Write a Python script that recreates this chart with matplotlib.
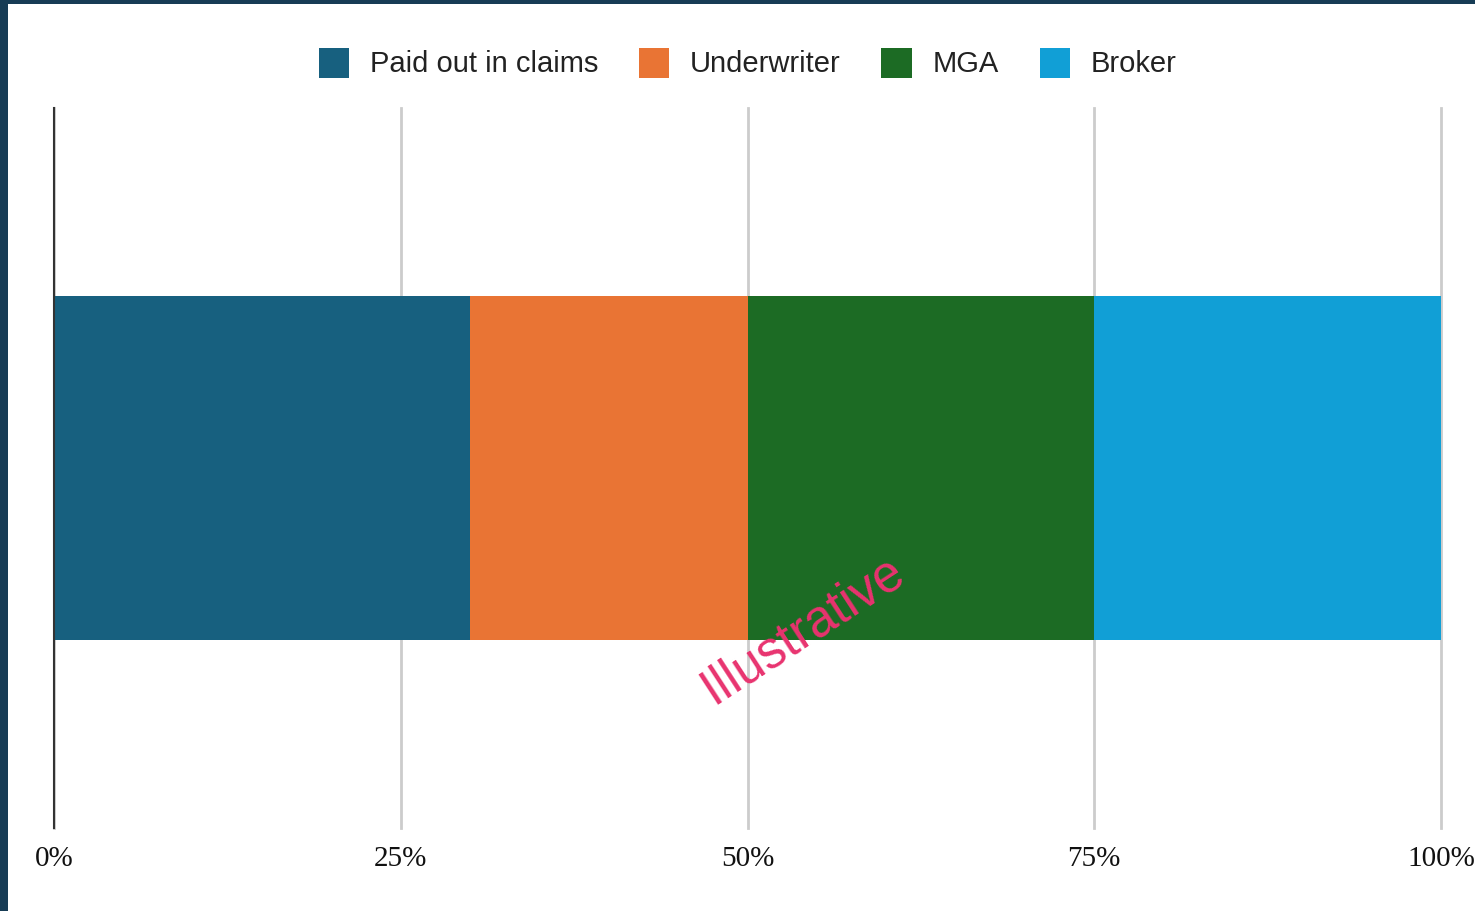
import numpy as np
import matplotlib.pyplot as plt
from matplotlib.patches import Patch, Rectangle

# shares of the premium
categories = ['Paid out in claims', 'Underwriter', 'MGA', 'Broker']
shares = [30, 20, 25, 25]
colors = ['#17607f', '#e97434', '#1c6b24', '#119fd6']
tickLabels = ['0%', '25%', '50%', '75%', '100%']

W, H = 1475, 911
fig = plt.figure(figsize=(W / 100, H / 100), dpi=100)
fig.patch.set_facecolor('#173c55')
# white panel inside the dark frame
fig.patches.append(Rectangle((8 / W, 0), 1 - 8 / W, 1 - 4 / H, transform=fig.transFigure,
                             facecolor='white', edgecolor='none', zorder=-5))

ax = fig.add_axes([54 / W, 1 - 828 / H, (1441 - 54) / W, (828 - 108) / H])
ax.set_facecolor('none')

left = 0
for cat, val, col in zip(categories, shares, colors):
    ax.barh(0, val, left=left, height=2 * 344 / 720, color=col, label=cat, zorder=2)
    left += val

ax.set_xlim(0, 100)
ax.set_ylim(-1, 1)
ax.set_xticks([0, 25, 50, 75, 100])
ax.set_xticklabels(tickLabels, fontfamily='Liberation Serif', fontsize=21, color='#111111')
ax.set_yticks([])
ax.tick_params(axis='x', length=0, pad=13)
ax.xaxis.grid(True, color='#cccccc', linewidth=2, zorder=1)
ax.set_axisbelow(True)
for line in ax.get_xgridlines():
    line.set_clip_on(False)
for s in ['top', 'right', 'bottom']:
    ax.spines[s].set_visible(False)
ax.spines['left'].set_color('#333333')
ax.spines['left'].set_linewidth(1.5)
ax.spines['left'].set_zorder(3)

handles = [Patch(facecolor=c, edgecolor='none', label=l) for l, c in zip(categories, colors)]
fig.legend(handles=handles, loc='center', bbox_to_anchor=(747.5 / W, 1 - 63 / H), ncol=4,
           frameon=False, prop={'family': 'Liberation Sans', 'size': 21},
           handlelength=1.05, handleheight=1.2, handletextpad=0.7, columnspacing=1.4,
           labelcolor='#222222')

fig.text(803 / W, 1 - 630 / H, 'Illustrative', rotation=33, color='#e8336f',
         fontfamily='Liberation Sans', fontsize=37, ha='center', va='center', zorder=5,
         rotation_mode='anchor')

fig.savefig('out.png', dpi=100)
